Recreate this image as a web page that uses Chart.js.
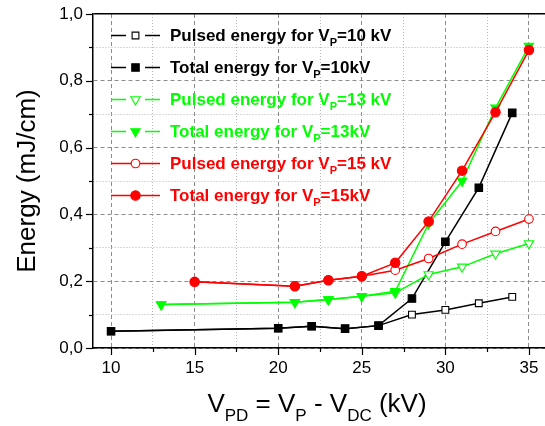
<!DOCTYPE html>
<html><head><meta charset="utf-8">
<script src="https://cdn.jsdelivr.net/npm/chart.js@4"></script>
<style>html,body{margin:0;padding:0;background:#fff}#wrap{width:545px;height:426px}</style>
</head><body><div id="wrap"><canvas id="c" width="545" height="426"></canvas></div>
<script>
// ---- tick values and labels ----
const xTickValues = [10, 12.5, 15, 17.5, 20, 22.5, 25, 27.5, 30, 32.5, 35];
const xTickLabels = ['10', '', '15', '', '20', '', '25', '', '30', '', '35'];
const yTickValues = [0, 0.1, 0.2, 0.3, 0.4, 0.5, 0.6, 0.7, 0.8, 0.9, 1.0];
const yTickLabels = ['0,0', '', '0,2', '', '0,4', '', '0,6', '', '0,8', '', '1,0'];

// ---- data ----
const vpd10 = [10, 20, 22, 24, 26, 28, 30, 32, 34];
const total10 = [0.050, 0.059, 0.065, 0.058, 0.067, 0.148, 0.318, 0.480, 0.704];
const pulsed10 = [0.050, 0.059, 0.065, 0.058, 0.067, 0.100, 0.114, 0.134, 0.153];
const vpd13 = [13, 21, 23, 25, 27, 29, 31, 33, 35];
const total13 = [0.130, 0.137, 0.145, 0.155, 0.170, 0.372, 0.500, 0.719, 0.904];
const pulsed13 = [0.130, 0.137, 0.145, 0.155, 0.165, 0.220, 0.243, 0.282, 0.313];
const vpd15 = [15, 21, 23, 25, 27, 29, 31, 33, 35];
const total15 = [0.198, 0.185, 0.203, 0.215, 0.255, 0.379, 0.531, 0.706, 0.892];
const pulsed15 = [0.198, 0.185, 0.203, 0.215, 0.233, 0.268, 0.311, 0.349, 0.386];

const legendLabels = [
  ['Pulsed energy for V', 'P', '=10 kV'],
  ['Total energy for V', 'P', '=10kV'],
  ['Pulsed energy for V', 'P', '=13 kV'],
  ['Total energy for V', 'P', '=13kV'],
  ['Pulsed energy for V', 'P', '=15 kV'],
  ['Total energy for V', 'P', '=15kV']
];

const FONT = "'Liberation Sans', Arial, Helvetica, sans-serif";
const BLACK = '#000000', GREEN = '#00ff00', RED = '#ff0000';

function pts(xs, ys) { return xs.map((x, i) => ({ x: x, y: ys[i] })); }

// style descriptors for each series (legend order)
const styles = [
  { color: BLACK, shape: 'rect', filled: false, r: 4.8, gap: true },
  { color: BLACK, shape: 'rect', filled: true, r: 5.3, gap: true },
  { color: GREEN, shape: 'tri', filled: false, r: 5.4, gap: true },
  { color: GREEN, shape: 'tri', filled: true, r: 5.4, gap: true },
  { color: RED, shape: 'circle', filled: false, r: 4.3, gap: false },
  { color: RED, shape: 'circle', filled: true, r: 4.7, gap: false }
];
const seriesData = [pts(vpd10, pulsed10), pts(vpd10, total10), pts(vpd13, pulsed13), pts(vpd13, total13), pts(vpd15, pulsed15), pts(vpd15, total15)];
const drawOrder = [5, 4, 3, 2, 1, 0];

const datasets = seriesData.map((d, i) => {
  const s = styles[i];
  return {
    data: d,
    order: drawOrder[i],
    borderColor: s.color,
    borderWidth: 1.5,
    backgroundColor: s.filled ? s.color : '#ffffff',
    pointBackgroundColor: s.filled ? s.color : '#ffffff',
    pointBorderColor: s.color,
    pointBorderWidth: 1.1,
    pointRadius: s.r,
    pointHoverRadius: s.r,
    pointStyle: s.shape === 'tri' ? 'triangle' : s.shape,
    pointRotation: s.shape === 'tri' ? 180 : 0,
    tension: 0,
    fill: false
  };
});

function isMajorX(v) { return Math.abs(v / 5 - Math.round(v / 5)) < 1e-6; }
function isMajorY(v) { return Math.abs(v / 0.2 - Math.round(v / 0.2)) < 1e-6; }

function drawMarker(ctx, s, x, y) {
  ctx.save();
  ctx.lineWidth = 1.1;
  ctx.strokeStyle = s.color;
  ctx.fillStyle = s.filled ? s.color : '#ffffff';
  ctx.beginPath();
  if (s.shape === 'rect') {
    const h = s.r * Math.SQRT1_2;
    ctx.rect(x - h, y - h, 2 * h, 2 * h);
  } else if (s.shape === 'circle') {
    ctx.arc(x, y, s.r, 0, Math.PI * 2);
  } else {
    const r = s.r;
    ctx.moveTo(x, y + r);
    ctx.lineTo(x - r * Math.sin(Math.PI / 3), y - r / 2);
    ctx.lineTo(x + r * Math.sin(Math.PI / 3), y - r / 2);
    ctx.closePath();
  }
  ctx.fill();
  ctx.stroke();
  ctx.restore();
}

const decorPlugin = {
  id: 'decor',
  afterDraw(chart) {
    const ctx = chart.ctx, a = chart.chartArea;
    const xs = chart.scales.x, ys = chart.scales.y;
    ctx.save();
    // tick marks
    ctx.strokeStyle = '#000';
    ctx.lineWidth = 1.2;
    yTickValues.forEach((v, i) => {
      const py = Math.round(ys.getPixelForValue(v)) + 0.5;
      const len = yTickLabels[i] ? 7 : 4;
      ctx.beginPath(); ctx.moveTo(a.left - len, py); ctx.lineTo(a.left, py); ctx.stroke();
    });
    xTickValues.forEach((v, i) => {
      const px = Math.round(xs.getPixelForValue(v)) + 0.5;
      const len = xTickLabels[i] ? 7 : 4;
      ctx.beginPath(); ctx.moveTo(px, a.bottom); ctx.lineTo(px, a.bottom + len); ctx.stroke();
    });

    // y title
    ctx.fillStyle = '#000';
    ctx.font = '26px ' + FONT;
    ctx.save();
    ctx.translate(35, (a.top + a.bottom) / 2);
    ctx.rotate(-Math.PI / 2);
    ctx.textAlign = 'center';
    ctx.textBaseline = 'alphabetic';
    ctx.fillText('Energy (mJ/cm)', 0, 0);
    ctx.restore();

    // x title with subscripts
    const parts = [
      ['V', 26, 0], ['PD', 17, 9], [' = V', 26, 0], ['P', 17, 9], [' - V', 26, 0], ['DC', 17, 9], [' (kV)', 26, 0]
    ];
    let total = 0;
    parts.forEach(p => { ctx.font = p[1] + 'px ' + FONT; total += ctx.measureText(p[0]).width; });
    let x = (a.left + a.right) / 2 - total / 2 - 2;
    const base = 411.5;
    ctx.textAlign = 'left';
    ctx.textBaseline = 'alphabetic';
    parts.forEach(p => {
      ctx.font = p[1] + 'px ' + FONT;
      ctx.fillText(p[0], x, base + p[2]);
      x += ctx.measureText(p[0]).width;
    });

    // legend
    legendLabels.forEach((lab, i) => {
      const s = styles[i];
      const cy = 35 + i * 31.9;
      const ly = Math.round(cy) + 0.5;
      ctx.strokeStyle = s.color;
      ctx.lineWidth = 1.5;
      ctx.beginPath();
      if (s.gap) {
        ctx.moveTo(111, ly); ctx.lineTo(126, ly);
        ctx.moveTo(145, ly); ctx.lineTo(160, ly);
      } else {
        ctx.moveTo(111, ly); ctx.lineTo(160, ly);
      }
      ctx.stroke();
      drawMarker(ctx, s, 135.5, ly);
      ctx.fillStyle = s.color;
      const b = cy + 6.2;
      let tx = 170;
      ctx.font = 'bold 17px ' + FONT;
      ctx.fillText(lab[0], tx, b); tx += ctx.measureText(lab[0]).width;
      ctx.font = 'bold 11px ' + FONT;
      ctx.fillText(lab[1], tx, b + 5); tx += ctx.measureText(lab[1]).width;
      ctx.font = 'bold 17px ' + FONT;
      ctx.fillText(lab[2], tx, b);
    });
    ctx.restore();
  }
};

const gridColor = (major) => major ? '#8c8c8c' : '#b4b4b4';

new Chart(document.getElementById('c'), {
  type: 'line',
  data: { datasets: datasets },
  options: {
    responsive: false,
    animation: false,
    events: [],
    layout: { autoPadding: false, padding: { top: 14, right: 0, left: 0, bottom: 0 } },
    plugins: { legend: { display: false }, tooltip: { enabled: false }, title: { display: false } },
    scales: {
      x: {
        type: 'linear',
        min: 8.92,
        max: 35.96,
        afterBuildTicks: (s) => { s.ticks = xTickValues.map(v => ({ value: v })); },
        afterFit: (s) => { s.height = 78; s.paddingLeft = 0; s.paddingRight = 0; },
        ticks: {
          autoSkip: false, maxRotation: 0, minRotation: 0, padding: 10,
          color: '#000', font: { family: FONT, size: 17 },
          callback: (v, i) => xTickLabels[i]
        },
        grid: {
          drawTicks: false,
          lineWidth: 1,
          color: (c) => c.tick ? gridColor(isMajorX(c.tick.value)) : '#000'
        },
        border: {
          display: true, color: '#000', width: 1.5,
          dash: (c) => c.tick ? (isMajorX(c.tick.value) ? [4, 3] : [1, 2]) : []
        }
      },
      y: {
        type: 'linear',
        min: 0,
        max: 1,
        afterBuildTicks: (s) => { s.ticks = yTickValues.map(v => ({ value: v })); },
        afterFit: (s) => { s.width = 93; s.paddingTop = 0; s.paddingBottom = 0; },
        ticks: {
          autoSkip: false, padding: 10,
          color: '#000', font: { family: FONT, size: 17 },
          callback: (v, i) => yTickLabels[i]
        },
        grid: {
          drawTicks: false,
          lineWidth: (c) => (c.tick && c.tick.value >= 0.999) ? 1.5 : 1,
          color: (c) => c.tick ? (c.tick.value >= 0.999 ? '#000' : gridColor(isMajorY(c.tick.value))) : '#000'
        },
        border: {
          display: true, color: '#000', width: 1.5,
          dash: (c) => c.tick ? (c.tick.value >= 0.999 ? [] : (isMajorY(c.tick.value) ? [4, 3] : [1, 2])) : []
        }
      }
    }
  },
  plugins: [decorPlugin]
});
</script>
</body></html>
